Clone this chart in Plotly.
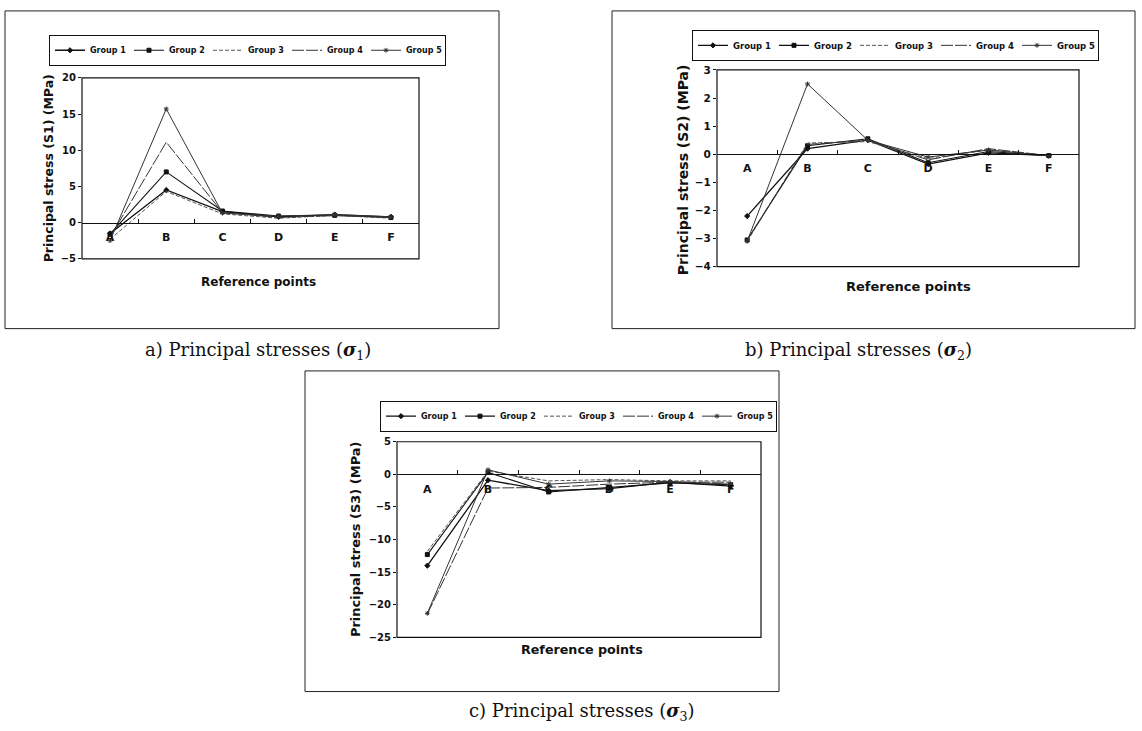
import plotly.graph_objects as go

W, H = 1142, 731

categories = ["A", "B", "C", "D", "E", "F"]
groups = ["Group 1", "Group 2", "Group 3", "Group 4", "Group 5"]

# Panel a) principal stress S1 (MPa)
s1_g1 = [-1.5, 4.5, 1.5, 0.8, 1.1, 0.8]
s1_g2 = [-1.6, 7.0, 1.6, 0.9, 1.0, 0.7]
s1_g3 = [-2.3, 4.3, 1.2, 0.6, 1.0, 0.6]
s1_g4 = [-2.0, 11.1, 1.4, 0.7, 1.0, 0.7]
s1_g5 = [-2.5, 15.7, 1.3, 0.9, 1.1, 0.8]

# Panel b) principal stress S2 (MPa)
s2_g1 = [-2.2, 0.2, 0.5, -0.35, 0.05, -0.05]
s2_g2 = [-3.05, 0.3, 0.55, -0.3, 0.1, -0.05]
s2_g3 = [-3.1, 0.4, 0.45, -0.15, 0.15, -0.05]
s2_g4 = [-3.05, 0.35, 0.5, -0.2, 0.2, -0.05]
s2_g5 = [-3.1, 2.5, 0.5, -0.1, 0.15, -0.05]

# Panel c) principal stress S3 (MPa)
s3_g1 = [-14.0, -0.9, -2.5, -2.2, -1.2, -1.8]
s3_g2 = [-12.3, 0.3, -2.7, -2.0, -1.3, -1.6]
s3_g3 = [-11.8, 0.5, -1.0, -0.8, -1.0, -1.0]
s3_g4 = [-21.4, -2.1, -2.0, -1.5, -1.2, -1.2]
s3_g5 = [-21.3, 0.7, -1.5, -1.0, -1.1, -1.5]

yticks_a = [-5, 0, 5, 10, 15, 20]
yticks_b = [-4, -3, -2, -1, 0, 1, 2, 3]
yticks_c = [-25, -20, -15, -10, -5, 0, 5]

panels = [
    dict(series=[s1_g1, s1_g2, s1_g3, s1_g4, s1_g5], yticks=yticks_a,
         ytitle="Principal stress (S1) (MPa)", caption="a) Principal stresses (<b><i>σ</i></b><sub>1</sub>)",
         box=(82, 419, 73, 257), frame=(5, 499, 5, 328), legend=(86, 409, 45),
         ytitle_pos=(48, 165), xtitle_pos=(258, 281), cap_pos=(258, 351),
         tfs=10, yfs=12.5, xfs=12, legfs=8, legw=34),
    dict(series=[s2_g1, s2_g2, s2_g3, s2_g4, s2_g5], yticks=yticks_b,
         ytitle="Principal stress (S2) (MPa)", caption="b) Principal stresses (<b><i>σ</i></b><sub>2</sub>)",
         box=(717, 1079, 65, 265), frame=(612, 1135, 5, 328), legend=(728, 1063, 40),
         ytitle_pos=(683, 166), xtitle_pos=(908, 285), cap_pos=(858, 351),
         tfs=10.5, yfs=14, xfs=13, legfs=8.5, legw=36),
    dict(series=[s3_g1, s3_g2, s3_g3, s3_g4, s3_g5], yticks=yticks_c,
         ytitle="Principal stress (S3) (MPa)", caption="c) Principal stresses (<b><i>σ</i></b><sub>3</sub>)",
         box=(397, 761, 443, 642), frame=(305, 779, 371, 697), legend=(413, 744, 417),
         ytitle_pos=(355, 542), xtitle_pos=(582, 654), cap_pos=(582, 718),
         tfs=10, yfs=13, xfs=12.7, legfs=8, legw=34),
]

styles = [
    dict(dash="solid", color="#111", width=1.3, symbol="diamond", size=4),
    dict(dash="solid", color="#111", width=1.1, symbol="square", size=4),
    dict(dash="4px,2px", color="#555", width=1.0, symbol=None, size=0),
    dict(dash="12px,2px", color="#333", width=1.0, symbol=None, size=0),
    dict(dash="solid", color="#333", width=1.0, symbol="asterisk-open", size=4),
]

SANS = "DejaVu Sans, Arial, sans-serif"
SERIF = "DejaVu Serif, serif"

def px_x(x):
    return x / W

def px_y(y):
    return 1 - y / H

fig = go.Figure()
layout = dict(width=W, height=H, margin=dict(l=0, r=0, t=0, b=0),
              paper_bgcolor="white", plot_bgcolor="white", showlegend=True)
shapes = []
annotations = []

for i, p in enumerate(panels):
    n = "" if i == 0 else str(i + 1)
    xa, ya = "x" + n, "y" + n
    leg = "legend" + n
    for g, (name, vals) in enumerate(zip(groups, p["series"])):
        st = styles[g]
        mode = "lines+markers" if st["symbol"] else "lines"
        tr = go.Scatter(x=categories, y=vals, name=name, mode=mode, xaxis=xa, yaxis=ya,
                        legend=leg,
                        line=dict(color=st["color"], width=st["width"], dash=st["dash"]))
        if st["symbol"]:
            tr.marker = dict(symbol=st["symbol"], size=st["size"], color=st["color"],
                             line=dict(color=st["color"], width=1))
        fig.add_trace(tr)

    x0, x1, y0, y1 = p["box"]
    ydom = [px_y(y1), px_y(y0)]
    ymin, ymax = p["yticks"][0], p["yticks"][-1]
    zero_pos = ydom[0] + (0 - ymin) / (ymax - ymin) * (ydom[1] - ydom[0])
    layout["xaxis" + n] = dict(domain=[px_x(x0), px_x(x1)], anchor="free", position=zero_pos,
                               type="category", range=[-0.5, 5.5], showgrid=False,
                               showline=True, linecolor="#111", linewidth=1,
                               tickson="boundaries", ticks="inside", ticklen=4, tickcolor="#111",
                               ticklabelstandoff=4,
                               tickfont=dict(family=SANS, size=11, color="#111", weight="bold"),
                               fixedrange=True)
    layout["yaxis" + n] = dict(domain=ydom, anchor=xa, range=[ymin, ymax], tickvals=p["yticks"],
                               showgrid=False, zeroline=False, showline=False,
                               ticks="outside", ticklen=3, tickcolor="#111",
                               tickfont=dict(family=SANS, size=p["tfs"], color="#111", weight="bold"),
                               fixedrange=True)
    shapes.append(dict(type="rect", xref=xa + " domain", yref=ya + " domain", x0=0, x1=1, y0=0, y1=1,
                       line=dict(color="#111", width=1.2), layer="above"))
    fx0, fx1, fy0, fy1 = p["frame"]
    shapes.append(dict(type="rect", xref="paper", yref="paper", x0=px_x(fx0), x1=px_x(fx1),
                       y0=px_y(fy1), y1=px_y(fy0), line=dict(color="#222", width=1)))
    lx0, lx1, lyc = p["legend"]
    layout[leg] = dict(orientation="h", x=px_x((lx0 + lx1) / 2), xanchor="center",
                       y=px_y(lyc), yanchor="middle", bgcolor="white", bordercolor="#111",
                       borderwidth=1, itemwidth=30, entrywidth=p["legw"],
                       font=dict(family=SANS, size=p["legfs"], color="#111", weight="bold"),
                       tracegroupgap=0)
    tx, ty = p["ytitle_pos"]
    annotations.append(dict(text=p["ytitle"], x=px_x(tx), y=px_y(ty), xref="paper", yref="paper",
                            xanchor="center", yanchor="middle",
                            showarrow=False, textangle=-90,
                            font=dict(family=SANS, size=p["yfs"], color="#111", weight="bold")))
    tx, ty = p["xtitle_pos"]
    annotations.append(dict(text="Reference points", x=px_x(tx), y=px_y(ty), xref="paper", yref="paper",
                            xanchor="center", yanchor="middle", showarrow=False,
                            font=dict(family=SANS, size=p["xfs"], color="#111", weight="bold")))
    tx, ty = p["cap_pos"]
    annotations.append(dict(text=p["caption"], x=px_x(tx), y=px_y(ty), xref="paper", yref="paper",
                            xanchor="center", yanchor="middle", showarrow=False,
                            font=dict(family=SERIF, size=18, color="#111")))

layout["shapes"] = shapes
layout["annotations"] = annotations
fig.update_layout(**layout)
fig.write_html("out.html", config={"displayModeBar": False},
               post_script="document.body.style.margin='0px';")
